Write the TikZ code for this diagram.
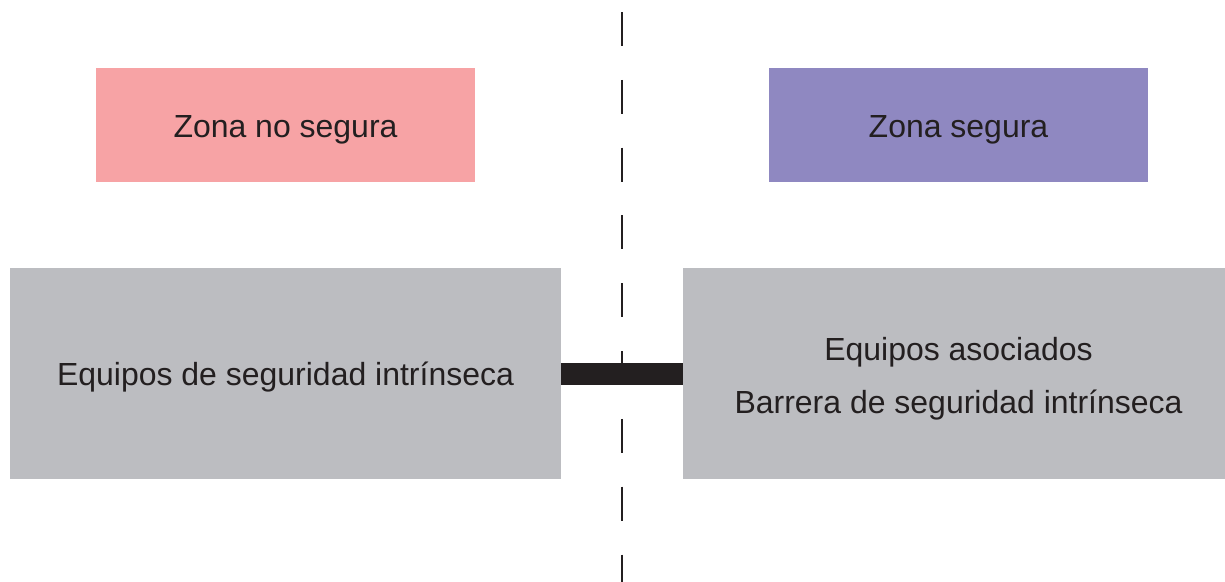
\documentclass[tikz,border=0pt]{standalone}
\usepackage{fontspec}
\setmainfont{Liberation Sans}
\definecolor{rosa}{HTML}{F7A3A5}
\definecolor{lila}{HTML}{8F88C1}
\definecolor{gris}{HTML}{BCBDC1}
\definecolor{tinta}{HTML}{231F20}
\begin{document}
\begin{tikzpicture}[x=0.02cm,y=-0.02cm,
  zona/.style={minimum width=7.58cm,minimum height=2.28cm,inner sep=0pt},
  equipo/.style={fill=gris,minimum width=11.02cm,minimum height=4.22cm,inner sep=0pt},
  rotulo/.style={text=tinta,align=center,inner sep=0pt,font=\fontsize{18.2}{30.3}\selectfont}]
  \useasboundingbox (0,0) rectangle (1225,582);
  \clip (0,0) rectangle (1225,582);
  % zonas
  \node [zona,fill=rosa] (nosegura) at (285.5,125) {};
  \node [zona,fill=lila] (segura) at (958.5,125) {};
  \node [rotulo] (tnosegura) at ([yshift=-0.1cm]nosegura.center) {Zona no segura};
  \node [rotulo] (tsegura) at ([yshift=-0.1cm]segura.center) {Zona segura};
  % separacion
  \coordinate (arriba) at (622,12);
  \coordinate (abajo) at (622,600);
  \draw [tinta,line width=1.1pt,dash pattern=on 19.3pt off 19.3pt] (arriba) -- (abajo);
  % equipos
  \node [equipo] (campo) at (285.5,373.5) {};
  \node [equipo] (asociado) at (958.5,373.5) {};
  \node [rotulo] (tcampo) at ([yshift=-0.08cm]campo.center) {Equipos de seguridad intr\'inseca};
  \node [rotulo] (tasociado) at ([yshift=-0.1cm]asociado.center) {Equipos asociados\\Barrera de seguridad intr\'inseca};
  \draw [tinta,line width=0.44cm] (campo.east) -- (asociado.west);
\end{tikzpicture}
\end{document}
